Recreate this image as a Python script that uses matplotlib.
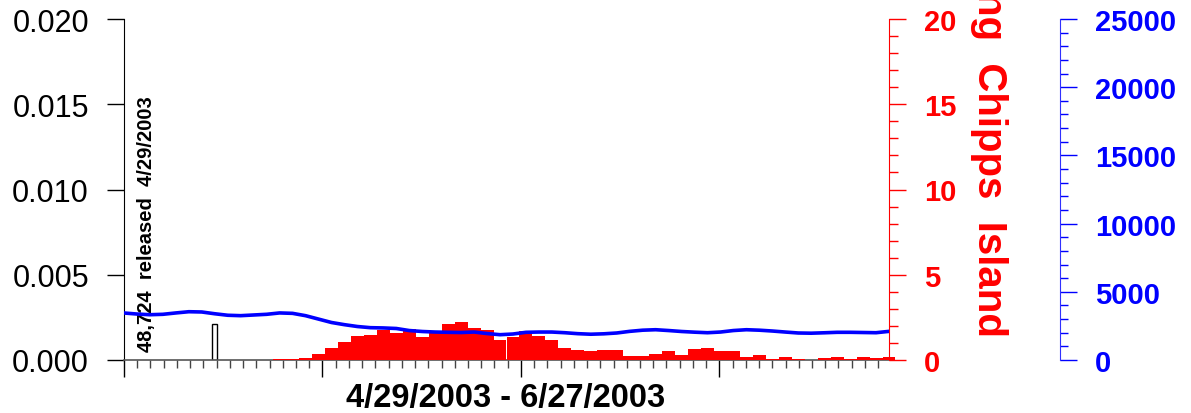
import numpy as np
import matplotlib
matplotlib.use("Agg")
import matplotlib.pyplot as plt
from matplotlib.ticker import MultipleLocator, FormatStrFormatter

plt.rcParams['font.family'] = ['Liberation Sans', 'DejaVu Sans']

# daily catch at Chipps Island, days after 4/29/2003
catch_days = list(range(1, 60))
catch = [0, 0, 0, 0, 0, 0, 0, 0, 0, 0, 0,
         0.05, 0.05, 0.12, 0.35, 0.70, 1.06, 1.41, 1.49, 1.76, 1.56,
         1.82, 1.37, 1.56, 2.11, 2.23, 1.88, 1.76, 1.17, 1.37, 1.68,
         1.41, 1.17, 0.70, 0.59, 0.53, 0.59, 0.59, 0.23, 0.23, 0.35,
         0.53, 0.29, 0.65, 0.70, 0.53, 0.53, 0.18, 0.29, 0.06, 0.18,
         0.04, 0.02, 0.12, 0.18, 0.06, 0.18, 0.12, 0.18]

# river flow, one value per day
flow_days = list(range(0, 60))
flow = [3446, 3370, 3320, 3350, 3450, 3540, 3520, 3390, 3280, 3250,
        3300, 3350, 3450, 3420, 3250, 3000, 2750, 2590, 2455, 2370,
        2350, 2310, 2160, 2090, 2050, 2030, 2015, 2050, 1940, 1855,
        1905, 2030, 2050, 2050, 2000, 1930, 1890, 1920, 1980, 2100,
        2185, 2220, 2160, 2090, 2040, 2000, 2050, 2160, 2220, 2185,
        2125, 2050, 1980, 1965, 1995, 2030, 2030, 2015, 2000, 2100]

# recovery rate of the release group
release_day = [7]
release_rate = [0.0021]
release_note = "48,724  released  4/29/2003"

fig = plt.figure(figsize=(11.91, 4.14), dpi=100)
W, H = 1191, 414
ax = fig.add_axes([124 / W, 1 - 361 / H, 765 / W, 341 / H])

# left axis: recovery rate
ax.bar(release_day, release_rate, width=0.4, color='white', edgecolor='black',
       linewidth=1, zorder=2)
ax.text(1.75, 0.0005, release_note, rotation=90, ha='center', va='bottom',
        fontsize=14.5, fontweight='bold', color='black', zorder=1)
ax.set_xlim(0, 59)
ax.set_ylim(0, 0.020)
ax.yaxis.set_major_locator(MultipleLocator(0.005))
ax.yaxis.set_major_formatter(FormatStrFormatter('%.3f'))
ax.tick_params(axis='y', which='major', direction='out', length=12.2, width=1,
               pad=13, labelsize=22, colors='black')
# x ticks: minor every tick step, major every 15 steps
tick_step = 59 / 57.82
ax.xaxis.set_minor_locator(MultipleLocator(tick_step))
ax.xaxis.set_major_locator(MultipleLocator(15 * tick_step))
ax.tick_params(axis='x', which='major', direction='out', length=12.2, width=1,
               labelbottom=False, colors='black')
ax.tick_params(axis='x', which='minor', direction='out', length=6, width=1,
               colors='#444444')
for side in ('top', 'right'):
    ax.spines[side].set_visible(False)
ax.spines['left'].set_color('black')
ax.spines['bottom'].set_color('#555555')
ax.spines['bottom'].set_linewidth(1.2)

# red axis: catch
ax_red = ax.twinx()
ax_red.bar(catch_days, catch, width=1.0, color='#ff0000', linewidth=0,
           clip_on=False, zorder=2)
ax_red.set_ylim(0, 20)
ax_red.yaxis.set_major_locator(MultipleLocator(5))
ax_red.yaxis.set_minor_locator(MultipleLocator(1))
ax_red.tick_params(axis='y', which='major', direction='out', length=12.5,
                   width=1, pad=12.5, labelsize=21, colors='#ff0000')
ax_red.tick_params(axis='y', which='minor', direction='out', length=6.5,
                   width=1, colors='#ff0000')
for lbl in ax_red.get_yticklabels():
    lbl.set_fontweight('bold')
for side in ('top', 'left', 'bottom'):
    ax_red.spines[side].set_visible(False)
ax_red.spines['right'].set_color('#ff0000')

# blue axis: flow
ax_blue = ax.twinx()
ax_blue.plot(flow_days, flow, color='#0000ff', linewidth=2.6, zorder=3)
ax_blue.set_ylim(0, 25000)
ax_blue.spines['right'].set_position(('axes', 1 + 171 / 765))
ax_blue.yaxis.set_major_locator(MultipleLocator(5000))
ax_blue.yaxis.set_minor_locator(MultipleLocator(1000))
ax_blue.tick_params(axis='y', which='major', direction='out', length=12.2,
                    width=1, pad=13, labelsize=21, colors='#0000ff')
ax_blue.tick_params(axis='y', which='minor', direction='out', length=6,
                    width=1, colors='#0000ff')
for lbl in ax_blue.get_yticklabels():
    lbl.set_fontweight('bold')
for side in ('top', 'left', 'bottom'):
    ax_blue.spines[side].set_visible(False)
ax_blue.spines['right'].set_color('#3030ff')

fig.text(506 / W, 1 - 407 / H, "4/29/2003 - 6/27/2003", ha='center',
         va='baseline', fontsize=23.5, fontweight='bold', color='black')
fig.text(989 / W, 1 - 337 / H, "Mid-water  Trawling  Chipps  Island",
         rotation=270, ha='center', va='bottom', fontsize=29,
         fontweight='bold', color='#ff0000')

fig.savefig("out.png", dpi=100)
